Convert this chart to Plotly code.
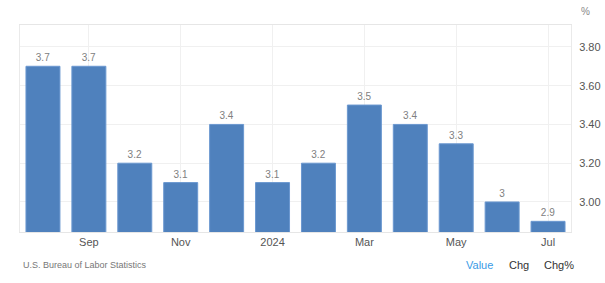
import plotly.graph_objects as go

months = ["Aug 2023", "Sep 2023", "Oct 2023", "Nov 2023", "Dec 2023", "Jan 2024",
          "Feb 2024", "Mar 2024", "Apr 2024", "May 2024", "Jun 2024", "Jul 2024"]
values = [3.7, 3.7, 3.2, 3.1, 3.4, 3.1, 3.2, 3.5, 3.4, 3.3, 3.0, 2.9]
value_labels = ["3.7", "3.7", "3.2", "3.1", "3.4", "3.1", "3.2", "3.5", "3.4", "3.3", "3", "2.9"]
tick_months = ["Sep 2023", "Nov 2023", "Jan 2024", "Mar 2024", "May 2024", "Jul 2024"]
tick_text = ["Sep", "Nov", "2024", "Mar", "May", "Jul"]
y_ticks = [3.0, 3.2, 3.4, 3.6, 3.8]
y_tick_text = ["3.00", "3.20", "3.40", "3.60", "3.80"]

FONT = "Liberation Sans, Arial, sans-serif"
W, H = 605, 283
ML, MR, MT, MB = 20, 34, 25, 51
PW, PH = W - ML - MR, H - MT - MB


def px(x, y):
    return (x - ML) / PW, (H - MB - y) / PH


def note(text, x, y, size, color, xanchor="center"):
    ax, ay = px(x, y)
    return dict(text=text, x=ax, y=ay, xref="paper", yref="paper", showarrow=False,
                xanchor=xanchor, yanchor="middle",
                font=dict(size=size, color=color, family=FONT))


fig = go.Figure()
fig.add_trace(go.Bar(
    x=months, y=values, text=value_labels, textposition="outside",
    textfont=dict(size=10, color="#808080", family=FONT),
    marker=dict(color="#4f81bd", line=dict(color="#6b98d0", width=1)),
    width=0.74, cliponaxis=False, hoverinfo="skip",
))

fig.update_layout(
    width=W, height=H,
    margin=dict(l=ML, r=MR, t=MT, b=MB),
    paper_bgcolor="white", plot_bgcolor="white",
    showlegend=False,
    font=dict(family=FONT, color="#555555"),
    xaxis=dict(
        type="category", range=[-0.5, 11.5],
        tickvals=tick_months, ticktext=tick_text,
        tickfont=dict(size=11, color="#555555"),
        showgrid=True, gridcolor="#f0f0f0", gridwidth=1,
        showline=True, linecolor="#e6e6e6", linewidth=1,
        ticks="", ticklen=0, mirror=True, automargin=False,
    ),
    yaxis=dict(
        side="right", range=[2.845, 3.913],
        tickvals=y_ticks, ticktext=y_tick_text,
        tickfont=dict(size=11, color="#555555"),
        showgrid=True, gridcolor="#f0f0f0", gridwidth=1,
        showline=True, linecolor="#eaeaea", linewidth=1, mirror=True,
        zeroline=False, ticks="", ticklabelstandoff=5, automargin=False,
    ),
    annotations=[
        note("%", 585, 12, 10, "#888888"),
        note("U.S. Bureau of Labor Statistics", 21, 265, 9, "#777777", xanchor="left"),
        note("Value", 479, 265, 11, "#3a9be6"),
        note("Chg", 519, 265, 11, "#333333"),
        note("Chg%", 559, 265, 11, "#333333"),
    ],
)

fig.write_html("out.html")
